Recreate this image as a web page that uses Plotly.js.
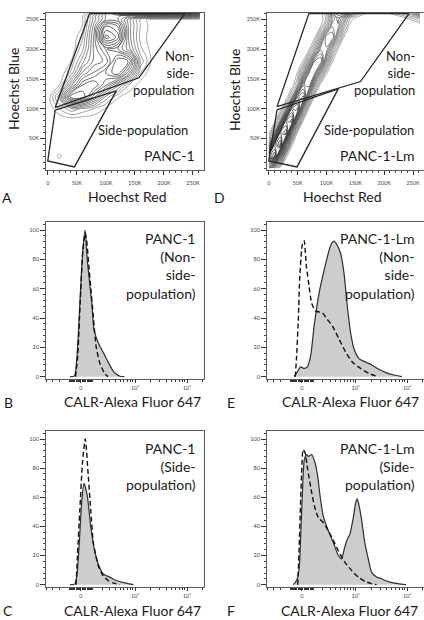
<!DOCTYPE html>
<html>
<head>
<meta charset="utf-8">
<script src="https://cdn.plot.ly/plotly-3.0.1.min.js"></script>
<style>html,body{margin:0;padding:0;background:#fff;}#chart{width:424px;height:620px;}</style>
</head>
<body>
<div id="chart"></div>
<script>
// ---------- DATA ----------
// Scatter panels (Hoechst Red vs Hoechst Blue), values in thousands (K)
const scatterTickVals = [0, 50, 100, 150, 200, 250];
const scatterTickText = ['0', '50K', '100K', '150K', '200K', '250K'];
const scatterYTickVals = [50, 100, 150, 200, 250];
const scatterYTickText = ['50K', '100K', '150K', '200K', '250K'];

// Gates panel A (PANC-1)
const gateNSP_A_x = [12.8, 72, 236, 157, 12.8];
const gateNSP_A_y = [102, 260, 260, 152, 102];
const gateSP_A_x = [12.8, 0, 46, 118, 12.8];
const gateSP_A_y = [97.5, 12.3, 2.2, 130, 97.5];
// Gates panel D (PANC-1-Lm)
const gateNSP_D_x = [14.4, 69.6, 243, 159, 14.4];
const gateNSP_D_y = [103.5, 260, 260, 145.8, 103.5];
const gateSP_D_x = [14.4, 0, 49, 120.5, 14.4];
const gateSP_D_y = [98, 12.3, 2.2, 133.4, 98];

// Density grid panel A (estimated contour density)
const gridXA = [0, 20, 40, 60, 80, 100, 120, 140, 160, 180, 200, 220, 240, 262];
const gridYA = [0, 20, 40, 60, 80, 100, 120, 140, 160, 180, 200, 220, 240, 250, 256, 262];
const densityA = [
  [0,0,0,0,0,0,0,0,0,0,0,0,0,0],
  [0,0.6,0,0,0,0,0,0,0,0,0,0,0,0],
  [0,0,0,0,0,0,0,0,0,0,0,0,0,0],
  [0,0,0,0,0,0,0,0,0,0,0,0,0,0],
  [0,0,0,0,0,0,0,0,0,0,0,0,0,0],
  [0,1,2,1.5,1,0.4,0,0,0,0,0,0,0,0],
  [0,2.5,7,7,4.5,2,0.6,0.1,0,0,0,0,0,0],
  [0,0.5,3.5,6,6.5,5,3,1,0.2,0,0,0,0,0],
  [0,0,1.2,4,5,6,7,4.5,1,0,0,0,0,0],
  [0,0,0.5,2.5,4,4.5,7,6.5,2,0.3,0,0,0,0],
  [0,0,0,1.5,4,5.5,5,3.5,1.2,0.2,0,0,0,0],
  [0,0,0,1,4,8.5,7.5,3,0.8,0.2,0,0,0,0],
  [0,0,0,0.5,3.5,7,6.5,3,1,0.2,0,0,0,0],
  [0,0,0,0.5,3,5,5,3,0.8,0.2,0.1,0.1,0.1,0.1],
  [0,0,0,0.5,3,5,5,4.5,4,4,4,4,4,3.5],
  [0,0,0,0,2,5,7,8,8,8,8,8,8,7]
];

// Density grid panel D
const gridXD = [0,10,20,30,40,50,60,70,80,90,100,110,120,130,140,150,160,170,200,240,262];
const gridYD = [0, 20, 40, 60, 80, 100, 120, 140, 160, 180, 200, 220, 240, 252, 262];
const densityD = [
  [3.6,1.6,0.2,0,0,0,0,0,0,0,0,0,0,0,0,0,0,0,0,0,0],
  [7.5,9,4.2,0.6,0,0,0,0,0,0,0,0,0,0,0,0,0,0,0,0,0],
  [2,7.5,9,4.2,0.6,0,0,0,0,0,0,0,0,0,0,0,0,0,0,0,0],
  [0.2,2.4,7.6,8.4,3.3,0.4,0,0,0,0,0,0,0,0,0,0,0,0,0,0,0],
  [0,0.2,2.2,7.2,7.9,3.1,0.4,0,0,0,0,0,0,0,0,0,0,0,0,0,0],
  [0,0,0.15,2,6.4,7,2.8,0.3,0,0,0,0,0,0,0,0,0,0,0,0,0],
  [0,0,0,0.1,1.7,5.6,6.2,2.5,0.3,0,0,0,0,0,0,0,0,0,0,0,0],
  [0,0,0,0,0.1,1.5,4.8,5.3,2.1,0.25,0,0,0,0,0,0,0,0,0,0,0],
  [0,0,0,0,0,0.55,2.5,4.95,4.95,2.5,0.55,0,0,0,0,0,0,0,0,0,0],
  [0,0,0,0,0,0,0.55,2.5,4.95,5.3,2.6,0.55,0,0,0,0,0,0,0,0,0],
  [0,0,0,0,0,0,0,0.45,2,4,4,2,0.45,0,0,0,0,0,0,0,0],
  [0,0,0,0,0,0,0,0,0.5,2.25,4.5,4.5,2.25,0.5,0,0,0,0,0,0,0],
  [0,0,0,0,0,0,0,0,0,0.4,1.8,3.6,3.6,1.8,0.4,0,0,0,0,0,0],
  [0,0,0,0,0,0,0,0,0,0.2,1,2.8,4,2.8,1,0.3,0,0,0,0.5,1.5],
  [0,0,0,0,0,0,0,0,0,0.3,1.5,4,5,5,4,2,1,0.5,0.5,2,4]
];

// Histogram panels: x in display (logicle) units where 0 -> 0, 10^3 -> 1, 10^4 -> 1.957
const histXTickVals = [0, 1, 1.957];
const histXTickText = ['0', '10\u00B3', '10\u2074'];
const histYTickVals = [0, 20, 40, 60, 80, 100];

// B: PANC-1 non-side-population
const histB_solid_x = [-0.2, -0.12, -0.07, -0.02, 0.03, 0.074, 0.12, 0.2, 0.24, 0.3, 0.35, 0.42, 0.48, 0.55, 0.6, 0.66, 0.72, 0.8];
const histB_solid_y = [0, 0.5, 16, 50, 84, 100, 78, 50, 32, 25, 20.5, 16, 11.5, 6.5, 3.5, 1.5, 0.3, 0];
const histB_dash_x = [-0.1, -0.06, -0.015, 0.035, 0.08, 0.105, 0.14, 0.18, 0.228, 0.28, 0.35, 0.44, 0.5];
const histB_dash_y = [0, 14, 50, 86, 98, 93, 78, 61, 41, 20.5, 9, 2, 0];

// C: PANC-1 side-population
const histC_solid_x = [-0.2, -0.11, -0.07, -0.03, 0.012, 0.056, 0.117, 0.18, 0.247, 0.32, 0.41, 0.48, 0.537, 0.66, 0.815, 0.97];
const histC_solid_y = [0, 0.5, 8, 29, 56, 69.5, 61, 40, 24, 14, 7.3, 6, 5, 2.7, 1.2, 0];
const histC_dash_x = [-0.09, -0.068, -0.02, 0.03, 0.08, 0.135, 0.18, 0.228, 0.32, 0.41, 0.506, 0.6, 0.72];
const histC_dash_y = [0, 17.5, 51.7, 85, 100, 74.5, 51.7, 29, 13, 6, 2.7, 1.1, 0];

// E: PANC-1-Lm non-side-population
const histE_solid_x = [-0.14, -0.08, -0.02, 0.044, 0.105, 0.167, 0.23, 0.322, 0.444, 0.537, 0.6, 0.661, 0.722, 0.785, 0.846, 0.907, 0.97, 1.063, 1.185, 1.31, 1.433, 1.556, 1.71, 1.86];
const histE_solid_y = [0, 3.4, 6.7, 5.6, 6.7, 14.5, 34.7, 57, 77, 89.5, 92.4, 89.5, 84, 70.5, 48, 30, 19, 12.3, 10, 7.8, 5, 2.9, 1.1, 0];
const histE_dash_x = [-0.12, -0.098, -0.061, -0.037, 0.013, 0.044, 0.087, 0.137, 0.185, 0.259, 0.383, 0.476, 0.568, 0.692, 0.815, 0.938, 1.093, 1.247, 1.37, 1.43];
const histE_dash_y = [0, 12.3, 41, 68, 90.6, 92.8, 75, 61.5, 50, 44.7, 43.6, 39, 34.7, 25.7, 16.8, 10, 5.6, 2.2, 0.5, 0];

// F: PANC-1-Lm side-population
const histF_solid_x = [-0.154, -0.093, -0.049, -0.012, 0.012, 0.049, 0.093, 0.123, 0.185, 0.247, 0.296, 0.34, 0.4, 0.494, 0.586, 0.68, 0.74, 0.79, 0.833, 0.895, 0.957, 1.0, 1.03, 1.06, 1.11, 1.17, 1.235, 1.296, 1.39, 1.48, 1.54, 1.636, 1.79, 1.94];
const histF_solid_y = [0, 3, 11, 40.5, 63, 86, 89.3, 88, 89.3, 83.6, 74.5, 61, 47, 37, 29, 20, 17.7, 24.5, 30, 34.8, 46, 56, 59, 55, 45, 29, 17.7, 8.6, 5.2, 4.1, 3, 1.8, 0.7, 0];
const histF_dash_x = [-0.074, -0.049, -0.025, 0, 0.025, 0.062, 0.111, 0.173, 0.235, 0.309, 0.4, 0.494, 0.605, 0.71, 0.8, 0.926, 1.05, 1.173, 1.296, 1.39];
const histF_dash_y = [0, 24.5, 52, 79, 92.7, 90.5, 79, 65.5, 54, 46, 42.7, 37, 29, 21, 15.5, 9.8, 5.2, 2.3, 0.7, 0];

// ---------- LAYOUT HELPERS ----------
const W = 424, H = 620;
const FONT = 'Lato, "Open Sans", "DejaVu Sans", sans-serif';
const TXT = '#1a1a1a';
const px = v => v / W;
const py = v => 1 - v / H;

const col1 = [px(46), px(204)];
const col2 = [px(267), 1];
const row1 = [py(170), py(13)];
const row2 = [py(379), py(222)];
const row3 = [py(587), py(431)];

// logicle-like display transform used only to place minor ticks
const logicle = v => 0.417 * Math.asinh(v / 183);
const histMinor = [];
[10,20,30,40,50,60,70,80,90,100,200,300,400,500,600,700,800,900,2000,3000,4000,5000,6000,7000,8000,9000,20000].forEach(m => {
  [m, -m].forEach(v => { const t = logicle(v); if (t > -0.645 && t < 2.27) histMinor.push(t); });
});

const baseAxis = {
  showline: true, mirror: true, linecolor: '#5a5a5a', linewidth: 1,
  ticks: 'outside', tickcolor: '#333', tickwidth: 1,
  showgrid: false, zeroline: false, fixedrange: true,
  tickfont: { family: FONT, size: 5.5, color: '#444' }
};

function scatterX(domain, anchor) {
  return Object.assign({}, baseAxis, {
    domain, anchor, range: [-3, 269], tickmode: 'array',
    tickvals: scatterTickVals, ticktext: scatterTickText, ticklen: 4, ticklabelstandoff: 3,
    minor: { dtick: 10, tick0: 0, ticklen: 2, ticks: 'outside', tickcolor: '#444' }
  });
}
function scatterY(domain, anchor) {
  return Object.assign({}, baseAxis, {
    domain, anchor, range: [-3, 261], tickmode: 'array',
    tickvals: scatterYTickVals, ticktext: scatterYTickText, ticklen: 5,
    minor: { dtick: 10, tick0: 0, ticklen: 2.5, ticks: 'outside', tickcolor: '#444' }
  });
}
function histX(domain, anchor) {
  return Object.assign({}, baseAxis, {
    domain, anchor, range: [-0.645, 2.27], tickmode: 'array',
    tickvals: histXTickVals, ticktext: histXTickText, ticklen: 3,
    minor: { tickmode: 'array', tickvals: histMinor, ticklen: 2, ticks: 'outside', tickcolor: '#333' }
  });
}
function histY(domain, anchor) {
  return Object.assign({}, baseAxis, {
    domain, anchor, range: [-1.6, 105.5], tickmode: 'array',
    tickvals: histYTickVals, ticklen: 5,
    minor: { dtick: 4, tick0: 0, ticklen: 2.5, ticks: 'outside', tickcolor: '#444' }
  });
}

// ---------- TRACES ----------
const traces = [];
function contourTrace(x, y, z, xa, ya, start, end, size) {
  return {
    type: 'contour', x, y, z, xaxis: xa, yaxis: ya, showscale: false,
    contours: { coloring: 'lines', start, end, size },
    line: { width: 0.7, smoothing: 1.2 },
    colorscale: [[0, '#858585'], [0.3, '#4a4a4a'], [1, '#0a0a0a']],
    hoverinfo: 'skip'
  };
}
function gateTrace(x, y, xa, ya) {
  return { type: 'scatter', mode: 'lines', x, y, xaxis: xa, yaxis: ya,
    line: { color: '#262626', width: 1.3 }, hoverinfo: 'skip', showlegend: false };
}
function solidTrace(x, y, xa, ya) {
  return { type: 'scatter', mode: 'lines', x, y, xaxis: xa, yaxis: ya, fill: 'tozeroy',
    fillcolor: '#cdcdcd', line: { color: '#2e2e2e', width: 1.2, shape: 'spline', smoothing: 0.6 },
    hoverinfo: 'skip', showlegend: false };
}
function dashTrace(x, y, xa, ya) {
  return { type: 'scatter', mode: 'lines', x, y, xaxis: xa, yaxis: ya,
    line: { color: '#111', width: 1.4, dash: '5px,3px', shape: 'spline', smoothing: 0.6 },
    hoverinfo: 'skip', showlegend: false };
}

traces.push(contourTrace(gridXA, gridYA, densityA, 'x', 'y', 0.5, 9, 0.55));
traces.push(gateTrace(gateNSP_A_x, gateNSP_A_y, 'x', 'y'));
traces.push(gateTrace(gateSP_A_x, gateSP_A_y, 'x', 'y'));
traces.push(contourTrace(gridXD, gridYD, densityD, 'x2', 'y2', 0.5, 9.5, 0.4));
traces.push(gateTrace(gateNSP_D_x, gateNSP_D_y, 'x2', 'y2'));
traces.push(gateTrace(gateSP_D_x, gateSP_D_y, 'x2', 'y2'));

traces.push(solidTrace(histB_solid_x, histB_solid_y, 'x3', 'y3'));
traces.push(dashTrace(histB_dash_x, histB_dash_y, 'x3', 'y3'));
traces.push(solidTrace(histE_solid_x, histE_solid_y, 'x4', 'y4'));
traces.push(dashTrace(histE_dash_x, histE_dash_y, 'x4', 'y4'));
traces.push(solidTrace(histC_solid_x, histC_solid_y, 'x5', 'y5'));
traces.push(dashTrace(histC_dash_x, histC_dash_y, 'x5', 'y5'));
traces.push(solidTrace(histF_solid_x, histF_solid_y, 'x6', 'y6'));
traces.push(dashTrace(histF_dash_x, histF_dash_y, 'x6', 'y6'));

// ---------- ANNOTATIONS ----------
function ann(text, x, y, opts) {
  return Object.assign({
    text, x: px(x), y: py(y), xref: 'paper', yref: 'paper', showarrow: false,
    xanchor: 'center', yanchor: 'middle', font: { family: FONT, size: 14, color: TXT }
  }, opts || {});
}
const annotations = [
  ann('Hoechst Red', 127, 196), ann('Hoechst Red', 342, 196),
  ann('Hoechst Blue', 13, 89, { textangle: -90 }), ann('Hoechst Blue', 235, 90, { textangle: -90 }),
  ann('A', 7, 197), ann('D', 219, 197),
  ann('B', 8, 402), ann('E', 231, 402),
  ann('C', 8, 610), ann('F', 231, 610),
  ann('CALR-Alexa Fluor 647', 132.5, 401), ann('CALR-Alexa Fluor 647', 350, 401),
  ann('CALR-Alexa Fluor 647', 132.5, 610), ann('CALR-Alexa Fluor 647', 349, 610),
  ann('Non-<br>side-<br>population', 195.5, 73, { xanchor: 'right', align: 'right', font: { family: FONT, size: 13, color: TXT } }),
  ann('Non-<br>side-<br>population', 417, 73, { xanchor: 'right', align: 'right', font: { family: FONT, size: 13, color: TXT } }),
  ann('Side-population', 142.5, 130, { font: { family: FONT, size: 13, color: TXT } }),
  ann('Side-population', 369, 130, { font: { family: FONT, size: 13, color: TXT } }),
  ann('PANC-1', 197, 155, { xanchor: 'right' }),
  ann('PANC-1-Lm', 416, 155, { xanchor: 'right' }),
  ann('PANC-1<br>(Non-<br>side-<br>population)', 198, 265.5, { xanchor: 'right', align: 'right' }),
  ann('PANC-1-Lm<br>(Non-<br>side-<br>population)', 417, 265.5, { xanchor: 'right', align: 'right' }),
  ann('PANC-1<br>(Side-<br>population)', 198, 466.7, { xanchor: 'right', align: 'right' }),
  ann('PANC-1-Lm<br>(Side-<br>population)', 417, 466.7, { xanchor: 'right', align: 'right' })
];

const layout = {
  width: W, height: H, margin: { l: 0, r: 0, t: 0, b: 0 },
  paper_bgcolor: '#fff', plot_bgcolor: '#fff', showlegend: false,
  font: { family: FONT, color: TXT },
  xaxis: scatterX(col1, 'y'), yaxis: scatterY(row1, 'x'),
  xaxis2: scatterX(col2, 'y2'), yaxis2: scatterY(row1, 'x2'),
  xaxis3: histX(col1, 'y3'), yaxis3: histY(row2, 'x3'),
  xaxis4: histX(col2, 'y4'), yaxis4: histY(row2, 'x4'),
  xaxis5: histX(col1, 'y5'), yaxis5: histY(row3, 'x5'),
  xaxis6: histX(col2, 'y6'), yaxis6: histY(row3, 'x6'),
  annotations
};

Plotly.newPlot('chart', traces, layout, { staticPlot: true, displayModeBar: false });
</script>
</body>
</html>
